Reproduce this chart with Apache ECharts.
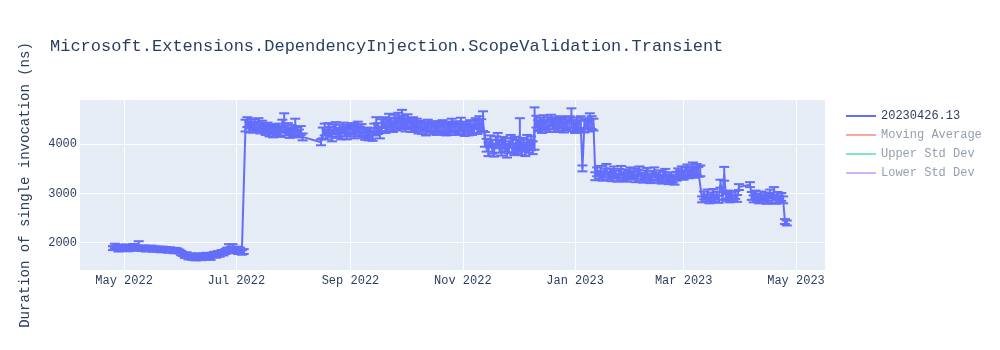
<!DOCTYPE html>
<html><head><meta charset="utf-8">
<script src="https://cdn.jsdelivr.net/npm/echarts@6/dist/echarts.min.js"></script>
<style>html,body{margin:0;padding:0;background:#fff}#c{width:1000px;height:350px}</style>
</head><body><div id="c"></div>
<script>
const chartTitle = 'Microsoft.Extensions.DependencyInjection.ScopeValidation.Transient';
const yAxisTitle = 'Duration of single invocation (ns)';
const seriesName = '20230426.13';
const hiddenSeries = ['Moving Average', 'Upper Std Dev', 'Lower Std Dev'];

// [date, mean duration (ns), std dev (ns)]
const apr22 = [['2022-04-25',1890,40],['2022-04-26',1935,45],['2022-04-27',1905,40],['2022-04-28',1870,50],['2022-04-29',1915,45],['2022-04-30',1880,40]];
const may22 = [['2022-05-01',1900,45],['2022-05-02',1925,40],['2022-05-03',1875,50],['2022-05-04',1910,40],['2022-05-05',1890,45],['2022-05-06',1935,40],['2022-05-07',1880,45],['2022-05-08',1905,40],['2022-05-09',1960,70],['2022-05-10',1890,45],['2022-05-11',1870,40],['2022-05-12',1900,45],['2022-05-13',1860,40],['2022-05-14',1885,50],['2022-05-15',1870,40],['2022-05-16',1895,45],['2022-05-17',1855,40],['2022-05-18',1880,45],['2022-05-19',1860,40],['2022-05-20',1875,45],['2022-05-21',1845,40],['2022-05-22',1870,50],['2022-05-23',1850,40],['2022-05-24',1865,45],['2022-05-25',1835,40],['2022-05-26',1860,45],['2022-05-27',1850,40],['2022-05-28',1830,45],['2022-05-29',1855,40],['2022-05-30',1835,45],['2022-05-31',1820,40]];
const jun22 = [['2022-06-01',1790,45],['2022-06-02',1770,40],['2022-06-03',1740,50],['2022-06-04',1760,45],['2022-06-05',1710,50],['2022-06-06',1735,45],['2022-06-07',1700,50],['2022-06-08',1725,45],['2022-06-09',1690,50],['2022-06-10',1740,45],['2022-06-11',1705,50],['2022-06-12',1690,45],['2022-06-13',1730,50],['2022-06-14',1710,45],['2022-06-15',1745,50],['2022-06-16',1720,45],['2022-06-17',1700,50],['2022-06-18',1750,45],['2022-06-19',1765,50],['2022-06-20',1740,45],['2022-06-21',1780,50],['2022-06-22',1760,45],['2022-06-23',1800,50],['2022-06-24',1785,45],['2022-06-25',1820,50],['2022-06-26',1845,55],['2022-06-27',1890,80],['2022-06-28',1860,60],['2022-06-29',1900,70],['2022-06-30',1840,55]];
const jul22 = [['2022-07-01',1870,50],['2022-07-02',1825,55],['2022-07-03',1850,50],['2022-07-04',1800,45],['2022-07-05',1820,50],['2022-07-06',4380,120],['2022-07-07',4450,100],['2022-07-08',4350,110],['2022-07-09',4420,100],['2022-07-10',4330,90],['2022-07-11',4400,110],['2022-07-12',4360,100],['2022-07-13',4430,100],['2022-07-14',4310,90],['2022-07-15',4380,100],['2022-07-16',4340,90],['2022-07-17',4290,100],['2022-07-18',4350,90],['2022-07-19',4260,100],['2022-07-20',4320,90],['2022-07-21',4240,100],['2022-07-22',4300,90],['2022-07-23',4270,100],['2022-07-24',4330,90],['2022-07-25',4250,100],['2022-07-26',4390,110],['2022-07-27',4450,180],['2022-07-28',4280,100],['2022-07-29',4330,100],['2022-07-30',4220,90],['2022-07-31',4290,100]];
const aug22 = [['2022-08-01',4240,90],['2022-08-02',4350,170],['2022-08-03',4260,90],['2022-08-04',4220,80],['2022-08-05',4280,90],['2022-08-06',4150,70],['2022-08-16',4040,60],['2022-08-17',4230,110],['2022-08-18',4300,120],['2022-08-19',4200,100],['2022-08-20',4320,110],['2022-08-21',4250,100],['2022-08-22',4180,120],['2022-08-23',4300,100],['2022-08-24',4340,110],['2022-08-25',4230,100],['2022-08-26',4280,120],['2022-08-27',4200,100],['2022-08-28',4330,110],['2022-08-29',4260,100],['2022-08-30',4220,120],['2022-08-31',4300,100]];
const sep22 = [['2022-09-01',4270,110],['2022-09-02',4330,100],['2022-09-03',4240,120],['2022-09-04',4300,100],['2022-09-05',4350,110],['2022-09-06',4260,100],['2022-09-07',4290,120],['2022-09-08',4230,100],['2022-09-09',4200,110],['2022-09-10',4250,90],['2022-09-11',4180,100],['2022-09-12',4220,110],['2022-09-13',4160,90],['2022-09-14',4300,120],['2022-09-15',4400,150],['2022-09-16',4320,110],['2022-09-17',4240,120],['2022-09-18',4380,130],['2022-09-19',4440,110],['2022-09-20',4350,120],['2022-09-21',4400,130],['2022-09-22',4480,140],['2022-09-23',4420,120],['2022-09-24',4360,110],['2022-09-25',4470,130],['2022-09-26',4400,120],['2022-09-27',4500,140],['2022-09-28',4430,120],['2022-09-29',4500,200],['2022-09-30',4450,130]];
const oct22 = [['2022-10-01',4380,120],['2022-10-02',4480,130],['2022-10-03',4420,110],['2022-10-04',4370,120],['2022-10-05',4440,110],['2022-10-06',4350,100],['2022-10-07',4400,120],['2022-10-08',4330,110],['2022-10-09',4380,100],['2022-10-10',4320,110],['2022-10-11',4360,100],['2022-10-12',4300,120],['2022-10-13',4390,110],['2022-10-14',4340,100],['2022-10-15',4310,110],['2022-10-16',4370,100],['2022-10-17',4330,110],['2022-10-18',4290,100],['2022-10-19',4350,110],['2022-10-20',4310,100],['2022-10-21',4380,110],['2022-10-22',4330,100],['2022-10-23',4290,110],['2022-10-24',4360,100],['2022-10-25',4310,110],['2022-10-26',4400,120],['2022-10-27',4340,100],['2022-10-28',4300,110],['2022-10-29',4370,100],['2022-10-30',4320,110],['2022-10-31',4410,130]];
const nov22 = [['2022-11-01',4320,100],['2022-11-02',4280,110],['2022-11-03',4360,100],['2022-11-04',4300,120],['2022-11-05',4380,110],['2022-11-06',4290,100],['2022-11-07',4350,120],['2022-11-08',4420,110],['2022-11-09',4360,150],['2022-11-10',4450,120],['2022-11-11',4380,130],['2022-11-12',4470,200],['2022-11-13',4100,150],['2022-11-14',3980,130],['2022-11-15',3900,140],['2022-11-16',4060,120],['2022-11-17',3950,140],['2022-11-18',3880,130],['2022-11-19',4040,120],['2022-11-20',4090,140],['2022-11-21',3960,130],['2022-11-22',3920,150],['2022-11-23',4030,120],['2022-11-24',3990,130],['2022-11-25',3870,140],['2022-11-26',3940,120],['2022-11-27',4060,130],['2022-11-28',3980,140],['2022-11-29',3900,120],['2022-11-30',4020,130]];
const dec22 = [['2022-12-01',3950,140],['2022-12-02',4200,330],['2022-12-03',3910,130],['2022-12-04',3990,140],['2022-12-05',3880,120],['2022-12-06',4050,140],['2022-12-07',3960,130],['2022-12-08',4020,140],['2022-12-09',3930,130],['2022-12-10',4320,430],['2022-12-11',4460,120],['2022-12-12',4380,110],['2022-12-13',4420,120],['2022-12-14',4340,110],['2022-12-15',4470,120],['2022-12-16',4390,110],['2022-12-17',4430,120],['2022-12-18',4360,110],['2022-12-19',4480,120],['2022-12-20',4410,110],['2022-12-21',4370,120],['2022-12-22',4440,110],['2022-12-23',4380,120],['2022-12-24',4460,110],['2022-12-25',4400,120],['2022-12-26',4350,110],['2022-12-27',4430,120],['2022-12-28',4390,110],['2022-12-29',4450,120],['2022-12-30',4530,200],['2022-12-31',4380,110]];
const jan23 = [['2023-01-01',4340,110],['2023-01-02',4420,120],['2023-01-03',4380,110],['2023-01-04',4450,120],['2023-01-05',3510,60],['2023-01-06',4360,120],['2023-01-07',4420,110],['2023-01-08',4380,120],['2023-01-09',4480,150],['2023-01-10',4440,130],['2023-01-11',4400,120],['2023-01-12',3350,80],['2023-01-13',3440,90],['2023-01-14',3380,80],['2023-01-15',3460,100],['2023-01-16',3340,80],['2023-01-17',3420,90],['2023-01-18',3490,110],['2023-01-19',3360,80],['2023-01-20',3410,90],['2023-01-21',3330,80],['2023-01-22',3450,100],['2023-01-23',3380,80],['2023-01-24',3320,80],['2023-01-25',3410,90],['2023-01-26',3460,100],['2023-01-27',3350,80],['2023-01-28',3400,90],['2023-01-29',3320,80],['2023-01-30',3380,80],['2023-01-31',3440,90]];
const feb23 = [['2023-02-01',3360,80],['2023-02-02',3420,90],['2023-02-03',3310,80],['2023-02-04',3390,90],['2023-02-05',3450,100],['2023-02-06',3340,80],['2023-02-07',3300,80],['2023-02-08',3380,90],['2023-02-09',3420,100],['2023-02-10',3330,80],['2023-02-11',3290,80],['2023-02-12',3370,90],['2023-02-13',3430,100],['2023-02-14',3340,80],['2023-02-15',3300,80],['2023-02-16',3380,90],['2023-02-17',3280,80],['2023-02-18',3350,90],['2023-02-19',3400,100],['2023-02-20',3310,80],['2023-02-21',3270,80],['2023-02-22',3340,90],['2023-02-23',3300,80],['2023-02-24',3260,80],['2023-02-25',3350,90],['2023-02-26',3410,100],['2023-02-27',3380,90],['2023-02-28',3440,110]];
const mar23 = [['2023-03-01',3370,90],['2023-03-02',3430,100],['2023-03-03',3480,110],['2023-03-04',3400,90],['2023-03-05',3450,100],['2023-03-06',3510,120],['2023-03-07',3420,100],['2023-03-08',3490,110],['2023-03-09',3440,100],['2023-03-10',3460,110],['2023-03-11',2880,60],['2023-03-12',2960,80],['2023-03-13',2910,70],['2023-03-14',2990,90],['2023-03-15',2870,70],['2023-03-16',2940,80],['2023-03-17',3000,90],['2023-03-18',2900,70],['2023-03-19',2960,80],['2023-03-20',2880,70],['2023-03-21',3200,80],['2023-03-22',2950,80],['2023-03-23',3400,140],['2023-03-24',2920,70],['2023-03-25',2980,80],['2023-03-26',2890,70],['2023-03-27',2950,80],['2023-03-28',2910,70],['2023-03-29',2970,80],['2023-03-30',2900,70],['2023-03-31',3130,60]];
const apr23 = [['2023-04-06',3180,50],['2023-04-07',2950,80],['2023-04-08',2890,70],['2023-04-09',2980,80],['2023-04-10',2920,70],['2023-04-11',2870,70],['2023-04-12',2960,80],['2023-04-13',2900,70],['2023-04-14',2940,80],['2023-04-15',2860,70],['2023-04-16',2930,80],['2023-04-17',2990,90],['2023-04-18',2880,70],['2023-04-19',3050,80],['2023-04-20',2860,70],['2023-04-21',2950,80],['2023-04-22',2890,70],['2023-04-23',2930,80],['2023-04-24',2870,70],['2023-04-25',2430,50],['2023-04-26',2400,50]];

const xTickDates = ['2022-05-01','2022-07-01','2022-09-01','2022-11-01','2023-01-01','2023-03-01','2023-05-01'];
const monthNames = ['Jan','Feb','Mar','Apr','May','Jun','Jul','Aug','Sep','Oct','Nov','Dec'];
const yTicks = [2000, 3000, 4000];
const xRange = ['2022-04-07 02:00', '2023-05-16 18:00'];
const yRange = [1445, 4900];

const FONT = "'Liberation Mono', 'Courier New', monospace";
const MAIN = '#636efa';
const TXT = '#2a3f5f';
const hiddenColors = ['#f7aa9d', '#80e5cb', '#d5b1fc'];

const parse = s => echarts.number.parseDate(s).getTime();
const xTicks = xTickDates.map(parse);

const records = [].concat(apr22, may22, jun22, jul22, aug22, sep22, oct22, nov22, dec22, jan23, feb23, mar23, apr23);
const lineData = records.map(r => [parse(r[0]), r[1]]);
const errData = records.map(r => [parse(r[0]), r[1], r[2]]);

const chart = echarts.init(document.getElementById('c'), null, {renderer: 'canvas'});
chart.setOption({
  animation: false,
  backgroundColor: '#fff',
  textStyle: {fontFamily: FONT},
  title: {
    text: chartTitle, left: 50, top: 38, padding: 0,
    textStyle: {fontFamily: FONT, fontSize: 17, fontWeight: 'normal', color: TXT}
  },
  legend: {
    orient: 'vertical', left: 846, top: 110, padding: 0, itemWidth: 30, itemHeight: 2, itemGap: 7,
    icon: 'rect',
    textStyle: {fontFamily: FONT, fontSize: 12, color: TXT},
    data: [{name: seriesName}].concat(hiddenSeries.map(n => ({name: n, textStyle: {color: '#949faf'}})))
  },
  grid: {left: 80, top: 100, width: 745, height: 170, show: true, backgroundColor: '#E5ECF6', borderWidth: 0},
  xAxis: {
    type: 'value', min: parse(xRange[0]), max: parse(xRange[1]),
    axisLine: {show: false},
    axisTick: {show: false, customValues: xTicks},
    axisLabel: {
      customValues: xTicks, color: TXT, fontFamily: FONT, fontSize: 12, margin: 5,
      formatter: v => { const d = new Date(v); return monthNames[d.getMonth()] + ' ' + d.getFullYear(); }
    },
    splitLine: {show: true, lineStyle: {color: '#ffffff', width: 1}}
  },
  yAxis: {
    type: 'value', min: yRange[0], max: yRange[1],
    axisLine: {show: false},
    axisTick: {show: false, customValues: yTicks},
    axisLabel: {customValues: yTicks, color: TXT, fontFamily: FONT, fontSize: 12, margin: 3, formatter: v => String(v)},
    splitLine: {show: true, lineStyle: {color: '#ffffff', width: 1}},
    name: yAxisTitle, nameLocation: 'middle', nameGap: 48,
    nameTextStyle: {fontFamily: FONT, fontSize: 14, color: TXT}
  },
  series: [
    {
      name: seriesName, type: 'line', data: lineData, showSymbol: false, symbol: 'none',
      color: MAIN, lineStyle: {color: MAIN, width: 2}, z: 3
    },
    {
      name: 'errorbars', type: 'custom', data: errData, z: 2,
      encode: {x: 0, y: 1},
      renderItem: function (params, api) {
        const x = api.value(0), y = api.value(1), e = api.value(2);
        const hi = api.coord([x, y + e]);
        const lo = api.coord([x, y - e]);
        const w = 5;
        const st = {stroke: MAIN, lineWidth: 2, fill: null};
        return {
          type: 'group',
          children: [
            {type: 'line', shape: {x1: hi[0], y1: hi[1], x2: lo[0], y2: lo[1]}, style: st},
            {type: 'line', shape: {x1: hi[0] - w, y1: hi[1], x2: hi[0] + w, y2: hi[1]}, style: st},
            {type: 'line', shape: {x1: lo[0] - w, y1: lo[1], x2: lo[0] + w, y2: lo[1]}, style: st}
          ]
        };
      }
    }
  ].concat(hiddenSeries.map((n, i) => ({
    name: n, type: 'line', data: [], showSymbol: false, symbol: 'none',
    color: hiddenColors[i], lineStyle: {color: hiddenColors[i], width: 2}
  })))
});
</script>
</body></html>
